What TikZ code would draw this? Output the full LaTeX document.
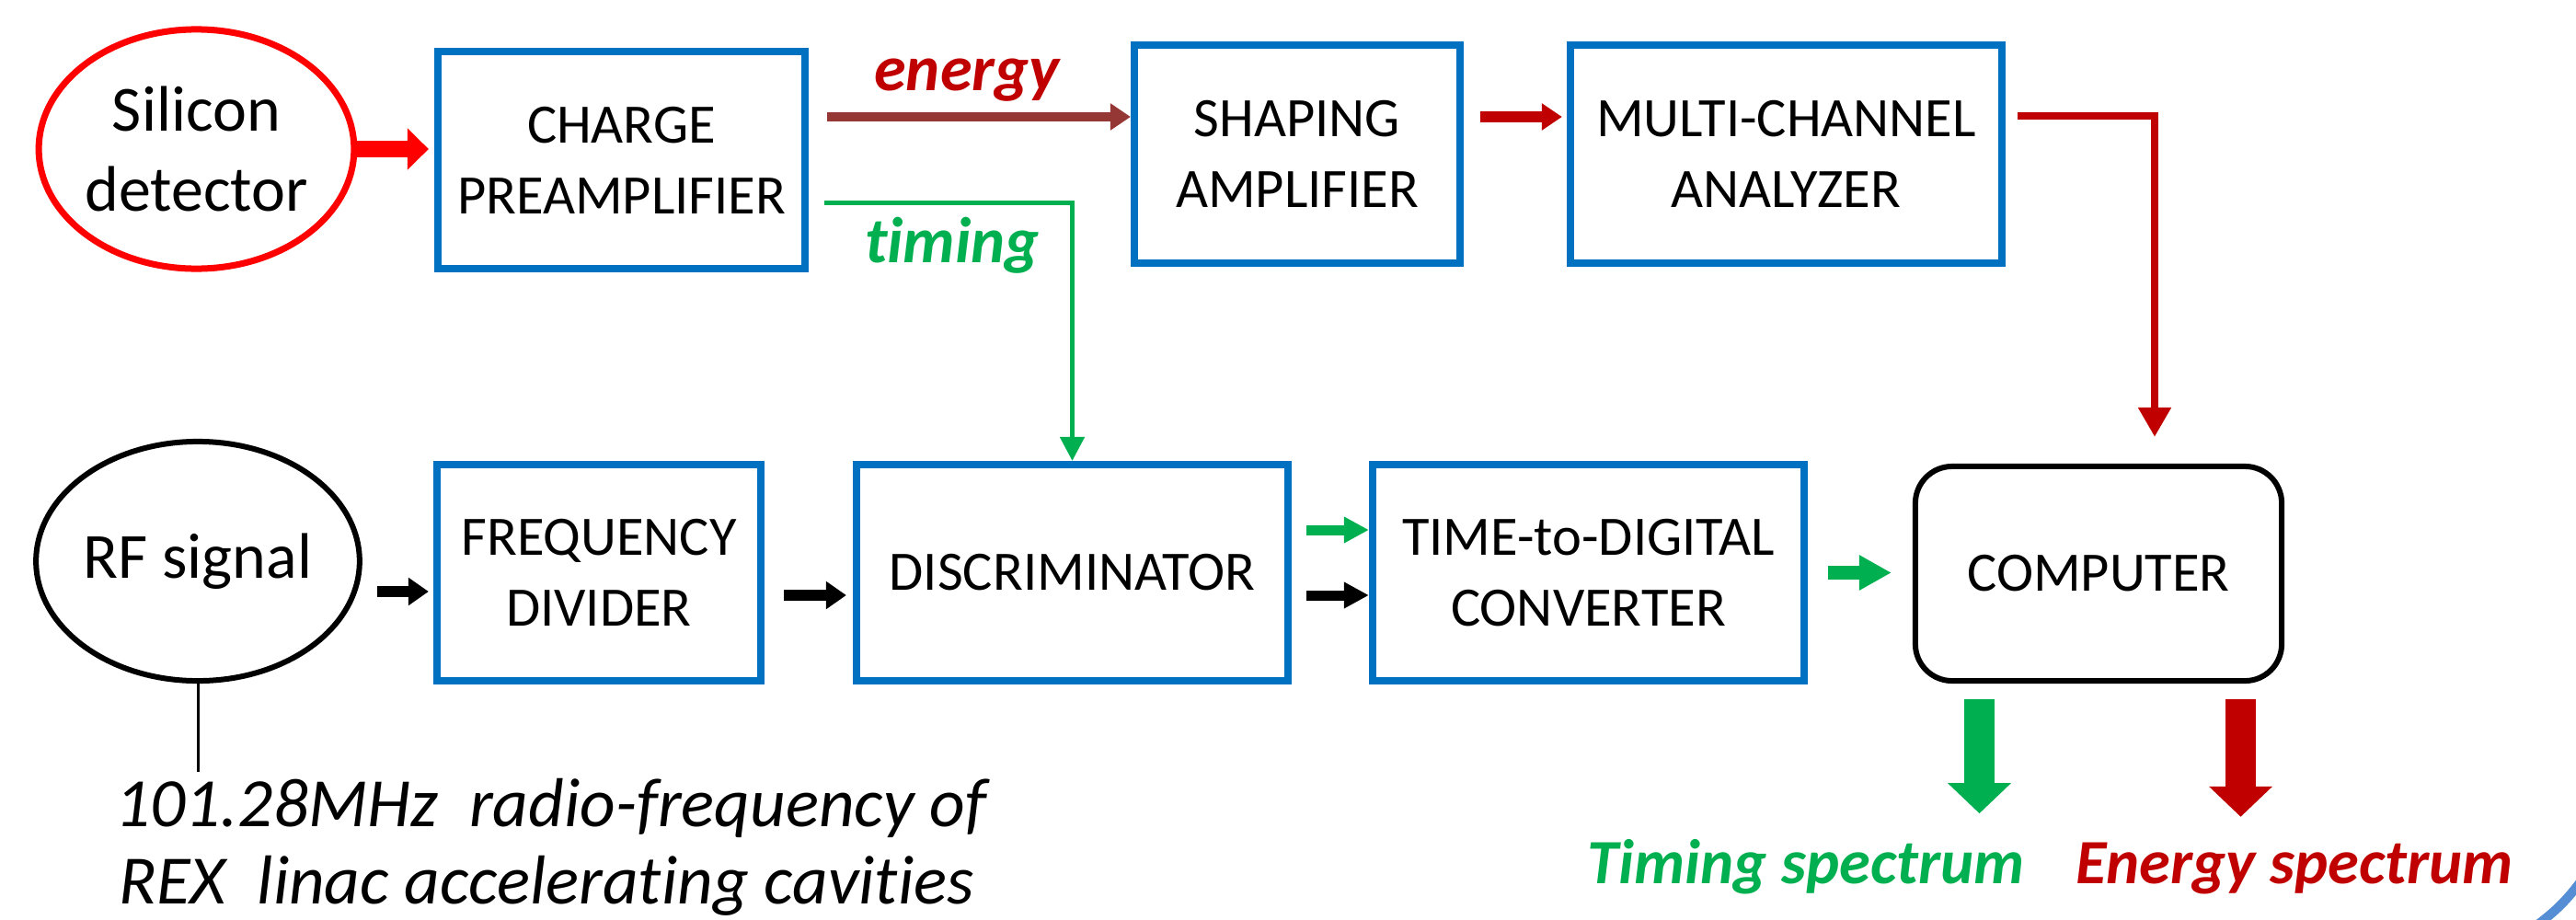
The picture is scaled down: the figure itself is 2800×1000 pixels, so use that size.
\documentclass[tikz,border=0pt]{standalone}
\usepackage{fontspec}
\setmainfont{Carlito}[Ligatures={NoCommon}]
\usetikzlibrary{arrows.meta,shapes.geometric,calc}
\definecolor{boxblue}{HTML}{0070C0}
\definecolor{brightred}{HTML}{FF0000}
\definecolor{darkred}{HTML}{C00000}
\definecolor{brownred}{HTML}{953735}
\definecolor{sgreen}{HTML}{00B050}
\definecolor{arcblue}{HTML}{558ED5}
\begin{document}
\begin{tikzpicture}[x=0.01cm,y=-0.01cm,
  boxnode/.style={draw=boxblue, line width=0.08cm, inner sep=0pt, align=center,
    font=\fontsize{17.2}{21.9}\selectfont},
  ellnode/.style={ellipse, inner sep=0pt, align=center,
    font=\fontsize{19.9}{24.7}\selectfont},
  lbl/.style={font=\fontsize{20}{24}\selectfont\bfseries\itshape, inner sep=0pt, anchor=base},
  speclbl/.style={font=\fontsize{19.5}{24}\selectfont\bfseries\itshape, inner sep=0pt, anchor=base},
  caplbl/.style={font=\fontsize{21.4}{25}\selectfont\itshape, inner sep=0pt, anchor=base},
  bigred/.style={draw=brightred, line width=0.18cm, -{Triangle[length=0.23cm,width=0.44cm]}},
  smallarr/.style={line width=0.11cm, -{Triangle[length=0.22cm,width=0.28cm]}},
  midarr/.style={line width=0.12cm, -{Triangle[length=0.22cm,width=0.29cm]}},
  thinline/.style={line width=#1, line join=miter},
  outarr/.style={line width=0.33cm, -{Triangle[length=0.33cm,width=0.67cm]}}
]
\useasboundingbox (0,0) rectangle (2800,1000);
\fill[white] (0,0) rectangle (2800,1000);

% nodes
\node[ellnode, draw=brightred, line width=0.07cm, minimum width=3.26cm, minimum height=2.6cm]
  (sil) at (213.5,162) {Silicon\\detector};
\node[boxnode, minimum width=3.99cm, minimum height=2.36cm] (cp) at (675.5,174) {CHARGE\\PREAMPLIFIER};
\node[boxnode, minimum width=3.54cm, minimum height=2.37cm] (sa) at (1410,167.5) {SHAPING\\AMPLIFIER};
\node[boxnode, minimum width=4.69cm, minimum height=2.37cm] (mca) at (1941.5,167.5) {MULTI-CHANNEL\\ANALYZER};

\node[ellnode, draw=black, line width=0.06cm, minimum width=3.28cm, minimum height=2.6cm]
  (rf) at (215,610) {RF signal};
\node[boxnode, minimum width=3.52cm, minimum height=2.35cm] (fd) at (651,622.5) {FREQUENCY\\DIVIDER};
\node[boxnode, minimum width=4.69cm, minimum height=2.35cm] (disc) at (1165.5,622.5) {DISCRIMINATOR};
\node[boxnode, minimum width=4.69cm, minimum height=2.35cm] (tdc) at (1726.5,622.5) {TIME-to-DIGITAL\\CONVERTER};
\node[draw=black, line width=0.06cm, rounded corners=0.4cm, inner sep=0pt,
  minimum width=3.98cm, minimum height=2.33cm, font=\fontsize{17.2}{21.9}\selectfont]
  (comp) at (2281,623.5) {COMPUTER};

% labels
\node[lbl, text=darkred] (elbl) at (1051,98) {energy};
\node[lbl, text=sgreen] (tlbl) at (1035,285) {timing};
\node[speclbl, text=sgreen] (tspec) at (1963,960) {Timing spectrum};
\node[speclbl, text=darkred] (espec) at (2494,960) {Energy spectrum};
\node[caplbl] (cap1) at (599,898) {101.28MHz\ \ radio-frequency of};
\node[caplbl] (cap2) at (594,982) {REX\ \ linac accelerating cavities};

% connectors
\draw[bigred, shorten >=0.06cm] (sil.east) -- (sil.east -| cp.west);
\draw[smallarr, draw=brownred, line width=0.10cm] ($(cp.east)+(20,-47)$) coordinate (e1) -- (e1 -| sa.west);
\draw[smallarr, draw=darkred, shorten >=0.05cm] ($(sa.east)+(18,-40.5)$) coordinate (e2) -- (e2 -| mca.west);
\draw[thinline=0.08cm, draw=darkred, -{Triangle[length=0.32cm,width=0.34cm]}]
  ($(mca.east)+(13,-41.5)$) -| ($(comp.north)+(61,-29)$);
\draw[thinline=0.05cm, draw=sgreen, -{Triangle[length=0.26cm,width=0.26cm]}]
  ($(cp.east)+(17,46)$) -| (disc.north);

\draw[midarr, draw=black, shorten >=0.05cm] ($(rf.east)+(16,33)$) coordinate (k1) -- (k1 -| fd.west);
\draw[midarr, draw=black, shorten >=0.07cm] ($(fd.east)+(21,24.5)$) coordinate (k2) -- (k2 -| disc.west);
\draw[smallarr, draw=sgreen, -{Triangle[length=0.27cm,width=0.27cm]}] ($(disc.east)+(16,-46.5)$) coordinate (g1) -- (g1 -| tdc.west);
\draw[smallarr, draw=black, -{Triangle[length=0.27cm,width=0.27cm]}] ($(disc.east)+(16,24.5)$) coordinate (k3) -- (k3 -| tdc.west);
\draw[draw=sgreen, line width=0.15cm, -{Triangle[length=0.35cm,width=0.36cm]}, shorten >=0.23cm]
  ($(tdc.east)+(22,0)$) coordinate (g2) -- (g2 -| comp.west);

\draw[outarr, draw=sgreen, shorten >=0.27cm] ($(comp.south)+(-129.5,17)$) coordinate (o1) -- (o1 |- tspec.north);
\draw[outarr, draw=darkred, shorten >=0.27cm] ($(comp.south)+(154.5,17)$) coordinate (o2) -- (o2 |- espec.north);

\draw[line width=0.03cm, shorten >=0.06cm] (rf.south) -- (rf.south |- cap1.north);

% decorative arc
\draw[arcblue, line width=0.1cm] (2757,1006) to[bend right=8] (2806,957);
\end{tikzpicture}
\end{document}
